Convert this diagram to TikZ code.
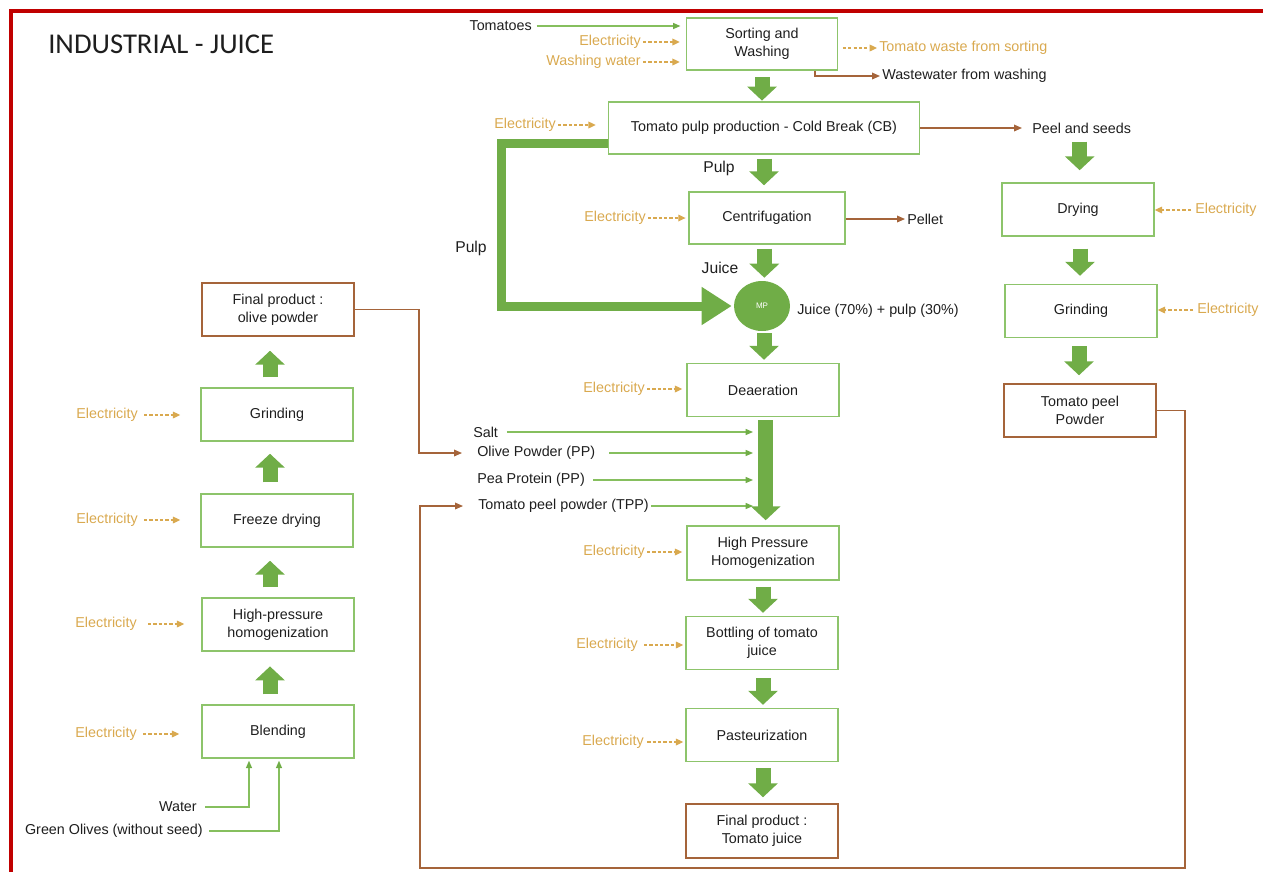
\documentclass[tikz,border=0pt]{standalone}
\usepackage{fontspec}
\setmainfont{Liberation Sans}
\newfontfamily\titlefont{Carlito}
\usetikzlibrary{arrows.meta,calc,shapes.geometric}

\definecolor{boxgreen}{HTML}{8DC46B}
\definecolor{arrowgreen}{HTML}{70AD47}
\definecolor{linegreen}{HTML}{86BF5E}
\definecolor{elecorange}{HTML}{D9A94F}
\definecolor{brownline}{HTML}{A5643A}
\definecolor{framered}{HTML}{C00000}
\definecolor{txt}{HTML}{1E1E1E}

\begin{document}
\begin{tikzpicture}[x=0.75pt,y=-0.75pt,
  font=\fontsize{10.75}{13.5}\selectfont, text=txt,
  proc/.style={draw=boxgreen, line width=1.1pt, minimum width=114pt,
    minimum height=39.75pt, align=center, inner sep=1pt},
  prod/.style={proc, draw=brownline},
  mpnode/.style={ellipse, fill=arrowgreen, minimum width=42pt,
    minimum height=37.5pt, inner sep=0pt, text=white,
    font=\fontsize{6}{7}\selectfont},
  lbl/.style={inner sep=1.5pt},
  biglbl/.style={lbl, font=\fontsize{11.75}{14}\selectfont},
  elab/.style={lbl, text=elecorange},
  elec/.style={draw=elecorange, line width=0.9pt, dash pattern=on 2.4pt off 1.6pt,
    -{Triangle[width=5pt,length=5.5pt]}},
  feed/.style={draw=linegreen, line width=0.9pt,
    -{Triangle[width=4.5pt,length=5.5pt,color=arrowgreen]}},
  brn/.style={draw=brownline, line width=1pt,
    -{Triangle[width=5pt,length=6pt]}},
  blk/.style={draw=arrowgreen, line width=11.25pt,
    -{Triangle[width=21.75pt,length=10.5pt]}},
  fat/.style={draw=arrowgreen, line width=6.75pt, line join=miter,
    -{Triangle[width=27pt,length=22.5pt]}}
]
\useasboundingbox (0,0) rectangle (1263,872);

% outer frame (top and left edges only)
\draw[framered, line width=3pt] (1263,11) -- (11,11) -- (11,872);

\node[anchor=west, inner sep=0pt, font=\titlefont\fontsize{21.5}{24}\selectfont]
  (title) at (48,44) {INDUSTRIAL - JUICE};

% ---------- tomato juice line (centre) ----------
\node[proc, minimum width=113.25pt, minimum height=39pt] (sort) at (762,44) {Sorting and\\Washing};
\node[proc, minimum width=233.25pt, minimum height=39pt] (pulp) at (764,128) {Tomato pulp production - Cold Break (CB)};
\node[proc, minimum width=117pt, minimum height=39pt] (cent) at (767,218) {Centrifugation};
\node[mpnode] (mp) at (762,306) {MP};
\node[proc] (dea) at (763,390) {Deaeration};
\node[proc, minimum height=40.5pt] (hph) at (763,553) {High Pressure\\Homogenization};
\node[proc] (bot) at (762,643) {Bottling of tomato\\juice};
\node[proc] (past) at (762,735) {Pasteurization};
\node[prod, minimum height=40.5pt] (fin) at (762,831) {Final product :\\Tomato juice};

\draw[blk, shorten <=5pt, shorten >=0.5pt] (sort.south) -- (sort.south |- pulp.north);
\draw[blk, shorten <=3pt, shorten >=4.5pt] (pulp.south) -- (pulp.south |- cent.north);
\draw[blk, shorten <=3pt, shorten >=2.25pt] ([xshift=-2pt]cent.south) -- ([xshift=-2pt]cent.south |- mp.north);
\draw[blk, shorten <=1.5pt, shorten >=2.25pt] ([xshift=1.5pt]mp.south) -- ([xshift=1.5pt]mp.south |- dea.north);
\draw[blk, shorten <=2.25pt, shorten >=3.75pt] ([xshift=2pt]dea.south) -- ([xshift=2pt]dea.south |- hph.north);
\draw[blk, shorten <=4.5pt, shorten >=2.25pt] (hph.south) -- (hph.south |- bot.north);
\draw[blk, shorten <=6pt, shorten >=2.25pt] ([xshift=0.75pt]bot.south) -- ([xshift=0.75pt]bot.south |- past.north);
\draw[blk, shorten <=4.5pt, shorten >=4.5pt] ([xshift=0.75pt]past.south) -- ([xshift=0.75pt]past.south |- fin.north);

% pulp bypass to the mixing point
\coordinate (pbend) at (501,306);
\draw[fat, shorten >=1.5pt] ($(pulp.west)+(0,15)$) -| (pbend) -- (mp.west);

\node[biglbl] (pl1) at (719,168) {Pulp};
\node[biglbl] (pl2) at (471,248) {Pulp};
\node[biglbl] (jl) at (720,268) {Juice};
\node[lbl, anchor=west] (mix) at (795,311) {Juice (70\%) + pulp (30\%)};

% sorting and washing: inputs and outputs
\node[lbl, anchor=east] (tom) at (534,26) {Tomatoes};
\draw[feed, shorten <=2pt, shorten >=4pt] (tom.east) -- (tom.east -| sort.west);
\node[elab, anchor=east] (es) at (643,42) {Electricity};
\draw[elec, shorten >=4.5pt] (es.east) -- (es.east -| sort.west);
\node[elab, anchor=east] (ww) at (643,62) {Washing water};
\draw[elec, shorten >=4.5pt] (ww.east) -- (ww.east -| sort.west);
\node[elab, anchor=west] (waste) at (877,48) {Tomato waste from sorting};
\draw[elec, shorten <=3.5pt] (sort.east |- waste.west) -- (waste.west);
\node[lbl, anchor=west] (wwash) at (880,76) {Wastewater from washing};
\coordinate (wsrc) at ($(sort.south)+(53,0)$);
\draw[brn] (wsrc) |- (wwash.west);

% cold break
\node[elab, anchor=east] (ep) at (558,125) {Electricity};
\draw[elec, shorten >=9pt] (ep.east) -- (ep.east -| pulp.west);
\node[lbl, anchor=west] (peel) at (1030,128) {Peel and seeds};
\draw[brn, shorten >=6pt] (pulp.east |- peel.west) -- (peel.west);

% centrifugation
\node[elab, anchor=east] (ec) at (648,218) {Electricity};
\draw[elec, shorten >=2pt] (ec.east) -- (ec.east -| cent.west);
\node[lbl, anchor=west] (pel) at (905,219) {Pellet};
\draw[brn] (cent.east |- pel.west) -- (pel.west);

% deaeration and additions
\node[elab, anchor=east] (ed) at (647,389) {Electricity};
\draw[elec, shorten >=3pt] (ed.east) -- (ed.east -| dea.west);

\coordinate (mixin) at (753,0);
\node[lbl, anchor=west] (salt) at (471,432) {Salt};
\node[lbl, anchor=west] (olive) at (475,453) {Olive Powder (PP)};
\node[lbl, anchor=west] (pea) at (475,480) {Pea Protein (PP)};
\node[lbl, anchor=west] (tpp) at (476,506) {Tomato peel powder (TPP)};
\draw[feed, shorten <=5pt] (salt.east) -- (salt.east -| mixin);
\draw[feed, shorten <=9pt] (olive.east) -- (olive.east -| mixin);
\draw[feed, shorten <=4.5pt] (pea.east) -- (pea.east -| mixin);
\draw[feed] (tpp.east) -- (tpp.east -| mixin);

% later steps
\node[elab, anchor=east] (eh) at (647,552) {Electricity};
\draw[elec, shorten >=3pt] (eh.east) -- (eh.east -| hph.west);
\node[elab, anchor=east] (eb) at (640,645) {Electricity};
\draw[elec, shorten <=3pt, shorten >=1.5pt] (eb.east) -- (eb.east -| bot.west);
\node[elab, anchor=east] (epa) at (646,742) {Electricity};
\draw[elec, shorten <=1pt, shorten >=1.5pt] (epa.east) -- (epa.east -| past.west);

% ---------- olive powder line (left) ----------
\node[prod] (olbox) at (278,309.5) {Final product :\\olive powder};
\node[proc] (grL) at (277,414.5) {Grinding};
\node[proc] (frz) at (277,520.5) {Freeze drying};
\node[proc] (hpL) at (278,624.5) {High-pressure\\homogenization};
\node[proc] (bld) at (278,731.5) {Blending};

\draw[blk, shorten <=7.5pt, shorten >=11pt] ([xshift=-6pt]bld.north) -- ([xshift=-6pt]bld.north |- hpL.south);
\draw[blk, shorten <=7.5pt, shorten >=9.75pt] ([xshift=-6pt]hpL.north) -- ([xshift=-6pt]hpL.north |- frz.south);
\draw[blk, shorten <=8.25pt, shorten >=9pt] ([xshift=-5.25pt]frz.north) -- ([xshift=-5.25pt]frz.north |- grL.south);
\draw[blk, shorten <=7.5pt, shorten >=10.5pt] ([xshift=-5.25pt]grL.north) -- ([xshift=-5.25pt]grL.north |- olbox.south);

\node[elab, anchor=east] (eg1) at (140,415) {Electricity};
\draw[elec, shorten <=3pt, shorten >=15pt] (eg1.east) -- (eg1.east -| grL.west);
\node[elab, anchor=east] (eg2) at (140,520) {Electricity};
\draw[elec, shorten <=3pt, shorten >=15pt] (eg2.east) -- (eg2.east -| frz.west);
\node[elab, anchor=east] (eg3) at (139,624) {Electricity};
\draw[elec, shorten <=6.75pt, shorten >=12.75pt] (eg3.east) -- (eg3.east -| hpL.west);
\node[elab, anchor=east] (eg4) at (139,734) {Electricity};
\draw[elec, shorten <=3pt, shorten >=16.5pt] (eg4.east) -- (eg4.east -| bld.west);

\node[lbl, anchor=east] (water) at (199,807) {Water};
\draw[feed, shorten <=4.5pt, shorten >=1.5pt] (water.east) -| ($(bld.south)+(-29,0)$);
\node[lbl, anchor=east] (olv) at (205,831) {Green Olives (without seed)};
\draw[feed, shorten <=3pt, shorten >=1.5pt] (olv.east) -| ($(bld.south)+(1,0)$);

% olive powder goes to the juice blend
\coordinate (ob) at (419,0);
\draw[brn, shorten >=9.75pt] (olbox.east) -| (ob |- olive.west) -- (olive.west);

% ---------- tomato peel powder line (right) ----------
\node[proc] (dry) at (1078,209.5) {Drying};
\node[proc] (grR) at (1081,311) {Grinding};
\node[prod] (tpbox) at (1080,410.5) {Tomato peel\\Powder};

\draw[blk, shorten <=4.5pt, shorten >=9pt] ([xshift=-1.5pt]peel.south) -- ([xshift=-1.5pt]peel.south |- dry.north);
\draw[blk, shorten <=9pt, shorten >=6pt] ([xshift=1.5pt]dry.south) -- ([xshift=1.5pt]dry.south |- grR.north);
\draw[blk, shorten <=6pt, shorten >=6pt] ([xshift=-1.5pt]grR.south) -- ([xshift=-1.5pt]grR.south |- tpbox.north);

\node[elab, anchor=west] (edry) at (1193,210) {Electricity};
\draw[elec, shorten <=1.5pt] (edry.west) -- (edry.west -| dry.east);
\node[elab, anchor=west] (egr) at (1195,310) {Electricity};
\draw[elec, shorten <=1.5pt] (egr.west) -- (egr.west -| grR.east);

% tomato peel powder goes back to the juice blend
\coordinate (tb1) at (1185,868);
\coordinate (tb2) at (420,868);
\draw[brn, shorten >=9.75pt] (tpbox.east) -| (tb1) -- (tb2) |- (tpp.west);

\end{tikzpicture}
\end{document}
